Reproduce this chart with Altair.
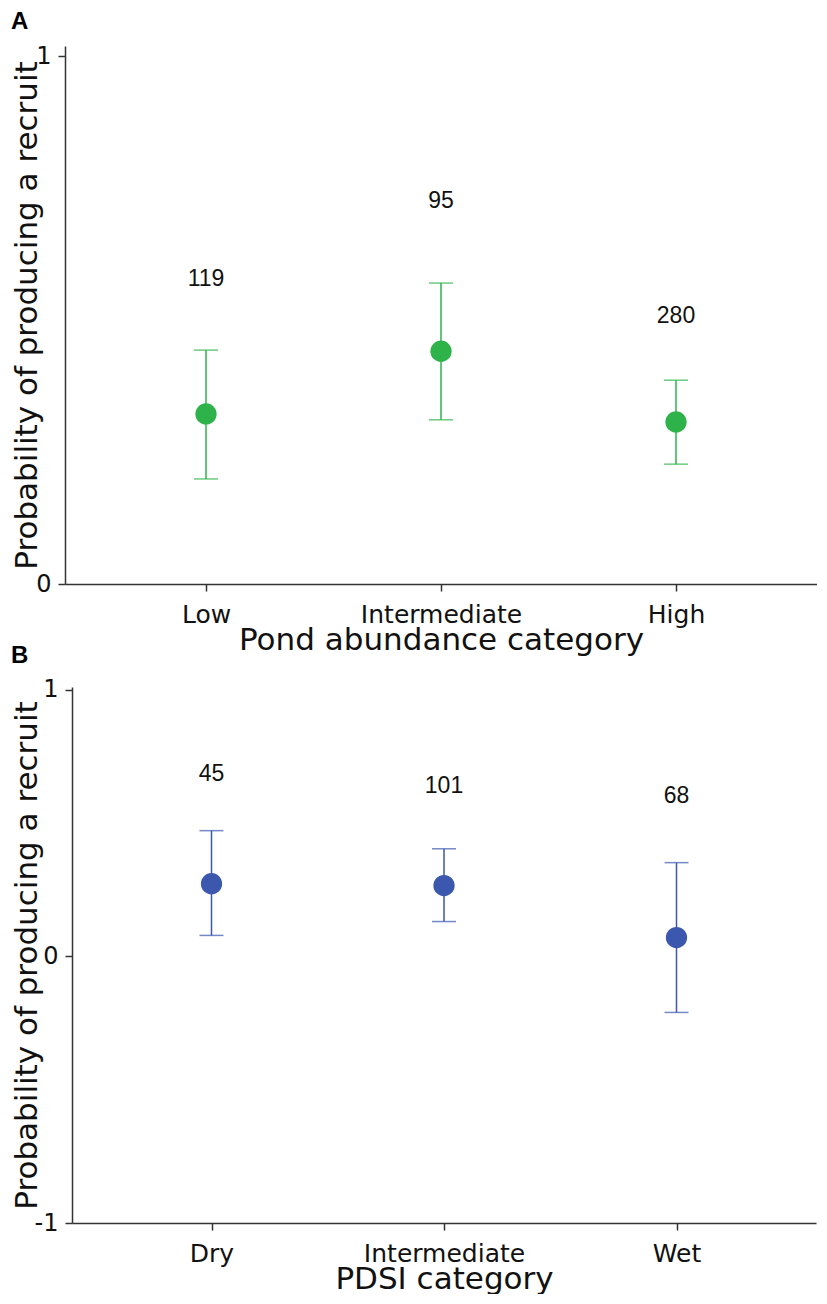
import altair as alt
import pandas as pd

# Panel A: pond abundance category
pond_cats = ["Low", "Intermediate", "High"]
pond_est = [0.322, 0.441, 0.307]
pond_lo = [0.199, 0.311, 0.227]
pond_hi = [0.443, 0.570, 0.386]
pond_n = ["119", "95", "280"]
pond_label_y = [0.578, 0.725, 0.508]

# Panel B: PDSI category
pdsi_cats = ["Dry", "Intermediate", "Wet"]
pdsi_est = [0.273, 0.266, 0.071]
pdsi_lo = [0.079, 0.131, -0.210]
pdsi_hi = [0.472, 0.404, 0.352]
pdsi_n = ["45", "101", "68"]
pdsi_label_y = [0.685, 0.640, 0.603]

GREEN = "#2DB34A"
BLUE = "#3B57AE"
YTITLE = "Probability of producing a recruit"


def panel(cats, est, lo, hi, n, ly, color, xtitle, ydomain, yvalues,
          width, height, xrange, yoffset, ytitlex, label):
    df = pd.DataFrame({"cat": cats, "est": est, "lo": lo, "hi": hi,
                       "n": n, "ly": ly})
    sc = dict(type="point", padding=0.6, domain=cats)
    if xrange is not None:
        sc["range"] = xrange
    x = alt.X("cat:N", sort=cats, scale=alt.Scale(**sc),
              axis=alt.Axis(title=xtitle, labelAngle=0,
                            labelBaseline="alphabetic", labelPadding=31,
                            titleY=65, titleBaseline="alphabetic"))
    yscale = alt.Scale(domain=ydomain, nice=False, zero=False)
    yaxis = alt.Axis(title=YTITLE, values=yvalues,
                     labelExpr="'' + datum.value", labelPadding=7,
                     offset=yoffset, titleX=ytitlex, titleY=height / 2,
                     titleAngle=270, titleBaseline="alphabetic",
                     titleAlign="center")
    base = alt.Chart(df)
    rule = base.mark_rule(color=color, strokeWidth=1.5).encode(
        x=x, y=alt.Y("lo:Q", scale=yscale, axis=yaxis), y2="hi:Q")
    cap_lo = base.mark_tick(color=color, orient="horizontal", size=24,
                            thickness=1.5).encode(x=x, y=alt.Y("lo:Q", scale=yscale))
    cap_hi = base.mark_tick(color=color, orient="horizontal", size=24,
                            thickness=1.5).encode(x=x, y=alt.Y("hi:Q", scale=yscale))
    dot = base.mark_circle(color=color, size=452, opacity=1).encode(
        x=x, y=alt.Y("est:Q", scale=yscale))
    txt = base.mark_text(font="Liberation Sans", fontSize=23, color="#111111",
                         baseline="middle").encode(
        x=x, y=alt.Y("ly:Q", scale=yscale), text="n:N")
    return alt.layer(rule, cap_lo, cap_hi, dot, txt).properties(
        width=width, height=height,
        title=alt.TitleParams(text=label, anchor="start", frame="bounds",
                              font="Liberation Sans", fontSize=24,
                              fontWeight="bold", color="#000000", offset=10))


a = panel(pond_cats, pond_est, pond_lo, pond_hi, pond_n, pond_label_y, GREEN,
          "Pond abundance category", [0, 1.019], [0, 1], 752, 538, None, 0,
          -29, "A")
b = panel(pdsi_cats, pdsi_est, pdsi_lo, pdsi_hi, pdsi_n, pdsi_label_y, BLUE,
          "PDSI category", [-1, 1.011], [-1, 0, 1], 752, 536, [7, 751], -7,
          -36, "B")

chart = alt.vconcat(a, b, spacing=103, bounds="flush").properties(
    padding={"left": 2, "top": 2, "right": 0, "bottom": 0}
).configure_view(stroke=None).configure_axis(
    grid=False, domainColor="#333333", tickColor="#333333", domainWidth=1.5,
    tickWidth=1.5, tickSize=7, labelFont="DejaVu Sans", labelFontSize=24,
    labelColor="#111111", titleFont="DejaVu Sans", titleFontSize=31,
    titleFontWeight="normal", titleColor="#111111"
).configure_axisX(labelFontSize=25)

chart.save("out.html", embed_options={"renderer": "svg", "actions": False})
